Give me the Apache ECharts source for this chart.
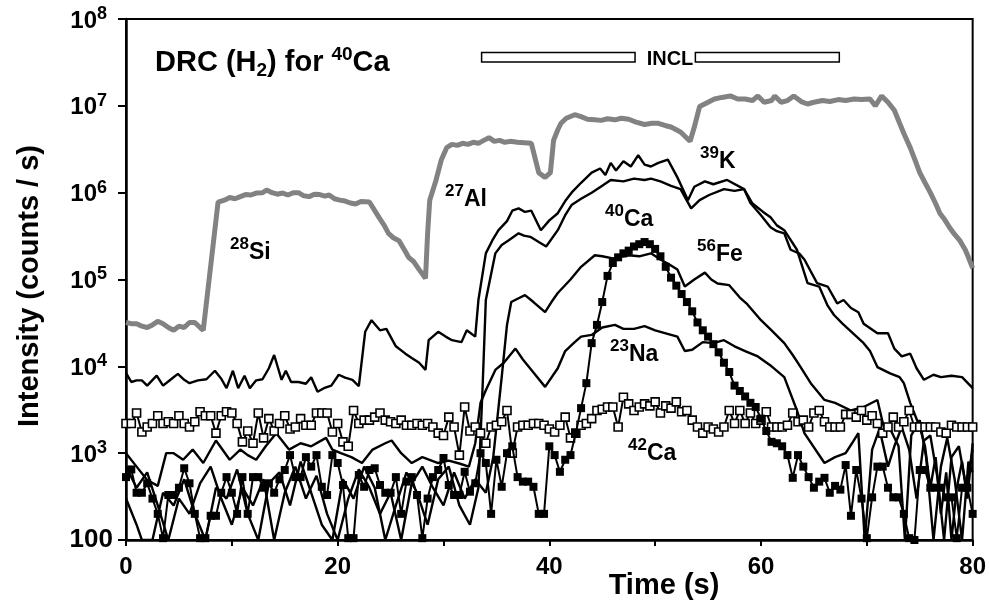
<!DOCTYPE html>
<html>
<head>
<meta charset="utf-8">
<script src="https://cdn.jsdelivr.net/npm/echarts@6.0.0/dist/echarts.min.js"></script>
<style>
  html, body { margin: 0; padding: 0; background: #fff; }
  #chart { width: 989px; height: 603px; }
</style>
</head>
<body>
<div id="chart"></div>
<script>
// axis ticks
var xTicks = [0, 20, 40, 60, 80]
var yTicks = [100, 1e3, 1e4, 1e5, 1e6, 1e7, 1e8]

// 28Si / 27Al (grey trace), [time, counts/s]
var si28 = [
  [0,3.2e4],[0.5,3.1e4],[1,3.1e4],[1.5,2.9e4],[2,2.8e4],[2.5,3.0e4],[3,3.3e4],[3.5,3.1e4],[4,2.8e4],[4.5,2.6e4],
  [5,2.9e4],[5.5,2.8e4],[6,3.2e4],[6.5,3.2e4],[7,2.8e4],[7.3,2.6e4],[8.7,7.8e5],[9.3,8.2e5],[9.8,8.8e5],[10.3,8.5e5],
  [10.8,9.0e5],[11.3,9.5e5],[11.8,9.4e5],[12.3,9.9e5],[12.9,1.0e6],[13.3,1.07e6],[13.8,1.0e6],[14.3,9.6e5],[14.8,9.9e5],[15.3,9.4e5],
  [15.8,1.0e6],[16.3,1.0e6],[16.8,9.2e5],[17.3,9.0e5],[17.8,9.6e5],[18.3,9.5e5],[18.8,9.1e5],[19.2,9.4e5],[19.7,8.5e5],[20.2,8.2e5],
  [20.7,8.0e5],[21.2,7.6e5],[21.7,7.4e5],[22.2,7.9e5],[23,7.8e5],[23.9,5.2e5],[24.4,4.2e5],[24.8,3.4e5],[25.3,3.0e5],[25.8,2.8e5],
  [26.3,2.2e5],[26.7,1.8e5],[27.2,1.6e5],[27.7,1.3e5],[28.3,1.03e5],[28.5,3.4e5],[28.7,8.2e5],[29.3,1.4e6],[29.8,2.4e6],[30.3,3.3e6],
  [30.8,3.6e6],[31.3,3.5e6],[31.8,3.7e6],[32.3,3.6e6],[32.8,3.8e6],[33.3,3.7e6],[33.8,4.0e6],[34.3,4.3e6],[34.8,3.9e6],[35.3,4.0e6],
  [35.8,3.8e6],[36.3,3.9e6],[37,3.8e6],[38.3,3.7e6],[39,1.7e6],[39.6,1.5e6],[40.1,1.7e6],[40.4,4.0e6],[40.8,5.3e6],[41.1,6.3e6],
  [41.6,7.2e6],[42.4,7.9e6],[43,7.5e6],[43.6,7.0e6],[44.3,6.9e6],[44.9,6.8e6],[45.5,7.1e6],[46.2,6.9e6],[46.8,7.2e6],[47.5,7.0e6],
  [48.2,6.5e6],[49,6.1e6],[49.7,6.3e6],[50.3,6.3e6],[51,5.9e6],[51.5,5.7e6],[52.4,5.0e6],[53.3,3.9e6],[53.7,5.7e6],[54.2,9.8e6],
  [55,1.1e7],[55.6,1.2e7],[56.3,1.25e7],[57.1,1.3e7],[57.8,1.2e7],[58.5,1.2e7],[59.2,1.15e7],[59.7,1.3e7],[60.3,1.1e7],[61,1.15e7],
  [61.3,1.3e7],[61.9,1.1e7],[62.5,1.15e7],[63.1,1.3e7],[63.8,1.12e7],[64.4,1.05e7],[65,1.1e7],[65.8,1.15e7],[66.5,1.12e7],[67.3,1.18e7],
  [68,1.15e7],[68.8,1.2e7],[69.5,1.18e7],[70.3,1.2e7],[70.8,1.0e7],[71.4,1.3e7],[72,1.1e7],[72.6,8.9e6],[73.1,6.3e6],[73.5,4.8e6],
  [74.1,3.3e6],[74.6,2.3e6],[75,1.7e6],[75.5,1.3e6],[76,1.0e6],[76.5,7.5e5],[76.9,5.8e5],[77.4,4.8e5],[77.8,4.0e5],[78.3,3.3e5],
  [78.8,2.8e5],[79.3,2.2e5],[79.6,1.8e5],[80,1.35e5]
]

// 39K
var k39 = [
  [0,8400],[0.5,6600],[1,6900],[1.5,6900],[2,6000],[2.9,7800],[3.5,6000],[4.2,7000],[4.9,8200],[5.5,7000],
  [6,6400],[6.8,6900],[7.6,7100],[8.4,8900],[9,7200],[9.5,5600],[10.1,8900],[10.6,5600],[11.2,7800],[11.7,5600],
  [12.3,6900],[12.9,7100],[13.5,9500],[14,13500],[14.7,7000],[15.1,8900],[15.6,6600],[16.3,6600],[17,6300],[17.5,7500],
  [18.1,5100],[18.7,5600],[19.4,6000],[20.1,8000],[20.7,7400],[21.4,7000],[22,5900],[22.6,25000],[23.2,34000],[24,26000],
  [24.6,27000],[25.5,17000],[26.4,14000],[27,12500],[27.7,11000],[28.3,9100],[28.6,20000],[29.5,25000],[30.2,22000],[30.8,20000],
  [31.7,19000],[32.2,26000],[33,22000],[33.3,58000],[34,200000],[34.6,280000],[35.2,370000],[36,470000],[36.5,620000],[37.1,660000],
  [37.7,600000],[38.3,620000],[39.2,370000],[40,480000],[40.8,580000],[41.5,800000],[42.1,1.0e6],[43,1.3e6],[44,1.7e6],[44.8,1.9e6],
  [45.3,1.6e6],[45.8,2.2e6],[46.3,1.8e6],[47,2.3e6],[47.7,2.0e6],[48.4,2.7e6],[49,2.1e6],[49.6,2.0e6],[50.3,2.2e6],[51.2,2.4e6],
  [52.1,1.5e6],[53.1,8.2e5],[53.7,1.17e6],[54.7,1.35e6],[55.5,1.25e6],[56.8,1.4e6],[58.4,1.1e6],[59,7.6e5],[60,5.5e5],[60.9,4e5],
  [61.5,3.6e5],[62.2,3.4e5],[62.8,2.2e5],[63.6,2.0e5],[64.1,1.7e5],[65.3,9.1e4],[66.3,8.3e4],[67.2,5.3e4],[67.8,5.8e4],[68.5,4.7e4],
  [69.2,4.2e4],[69.7,3.1e4],[71,2.4e4],[72,2.4e4],[72.6,1.6e4],[73.3,1.3e4],[74.1,1.4e4],[74.7,9.5e3],[75.4,7e3],[76.3,8e3],
  [77,7.5e3],[78,7.8e3],[79,7.5e3],[80,5.6e3]
]

// second upper trace (unlabelled)
var upper2 = [
  [0,300],[1,150],[1.5,100],[2.5,100],[3.5,350],[4.5,250],[5.5,500],[6.5,200],[7.5,100],[8.5,400],
  [9.5,300],[10.5,650],[11.5,200],[12.5,100],[13.5,450],[14.5,600],[15.5,250],[16.5,800],[17.5,350],[18.5,150],
  [19.5,100],[20.5,500],[21.5,300],[22.5,700],[23.5,400],[24.5,100],[25.5,250],[26.5,600],[27.5,350],[28.5,150],
  [29.5,500],[30.5,700],[31.5,250],[32.5,150],[33.3,400],[33.7,6000],[34,58000],[34.9,200000],[35.5,250000],[36.1,280000],
  [37.1,340000],[37.6,320000],[38.2,310000],[39,270000],[39.7,240000],[40.8,370000],[41.5,550000],[42.1,720000],[43,850000],[44,1.0e6],
  [45,1.2e6],[45.8,1.4e6],[47,1.35e6],[48,1.45e6],[49,1.4e6],[49.6,1.45e6],[50.5,1.35e6],[51.5,1.2e6],[52.4,1.1e6],[53.4,6.6e5],
  [54.2,8.2e5],[55.1,9.4e5],[56.5,1.1e6],[57.5,1.05e6],[58.4,1.1e6],[59.2,7.5e5],[60.2,6e5],[60.9,5.2e5],[61.5,4.2e5],[62.2,3.7e5],
  [63.4,2.2e5],[64.4,9.1e4],[65.5,8.3e4],[66.3,5e4],[66.9,3.9e4],[67.7,3.1e4],[68.7,2.4e4],[69.7,1.85e4],[70.3,1.5e4],[71,9.8e3],
  [72.2,8.3e3],[73.1,7.5e3],[73.5,6.4e3],[74.1,3.8e3],[75,2e3],[75.5,1200],[76,400],[76.5,900],[77,200],[77.5,600],
  [78,100],[78.5,400],[79,800],[79.5,300],[80,1300]
]

// 56Fe
var fe56 = [
  [0,700],[1,400],[2,600],[3,250],[4,100],[5,300],[6,200],[7,450],[8,700],[9,300],
  [10,150],[11,400],[12,250],[13,500],[14,100],[15,350],[16,700],[17,300],[18,550],[19,200],
  [20,100],[21,300],[22,650],[23,400],[24,200],[25,350],[26,100],[27,450],[28,700],[29,400],
  [30,250],[31,600],[32,300],[33,500],[34,350],[34.7,900],[35.5,7500],[36,30000],[36.4,55000],[37,60000],
  [37.7,66000],[38.5,55000],[39.6,42000],[40.2,55000],[40.8,70000],[42,100000],[43,140000],[44.3,190000],[45,185000],[46,175000],
  [46.5,180000],[47.5,190000],[48.5,185000],[49.6,200000],[50.5,170000],[51.3,150000],[52.1,130000],[52.8,83000],[53.7,100000],[54.7,120000],
  [55.3,100000],[55.9,90000],[57,86000],[58,62000],[58.7,52000],[60,34000],[61,26000],[62.2,18500],[63,13500],[63.7,10000],
  [64.7,6400],[66,4100],[67,3800],[68.5,3100],[69.7,3400],[71,4100],[71.6,2000],[72.3,1800],[73,1200],[73.6,100],
  [74.2,1600],[75,2400],[75.6,900],[76.3,100],[77,700],[77.6,1500],[78.3,500],[79,100],[79.6,800],[80,600]
]

// 23Na
var na23 = [
  [0,1000],[1,700],[2,490],[3,420],[3.8,1000],[4.5,1000],[5.4,840],[6.3,1100],[7.3,770],[8.5,1400],
  [9.8,840],[10.8,1100],[11.5,950],[12.3,840],[13.2,1200],[14.2,1700],[15.4,1100],[16.5,1300],[17.5,1200],[18.9,1500],
  [19.5,1100],[20.3,1000],[21.3,900],[22.3,770],[23.3,1100],[24.5,1300],[25.1,1400],[26,1000],[27,770],[28,900],
  [29.5,770],[30.5,820],[31.5,760],[32.4,700],[33,1300],[33.5,3800],[34,5300],[34.9,9100],[35.7,11000],[36.8,16000],
  [37.5,12000],[38.5,8500],[39.6,5800],[40.8,9500],[41.5,15000],[42.4,19000],[43,22000],[44,23000],[45,28000],[46.2,30000],
  [47,27000],[48,27000],[49,29000],[50,26000],[51,24000],[52.1,22000],[52.8,15000],[53.5,15500],[54.5,19000],[55.5,18500],
  [56.5,20000],[57.5,17000],[58.5,15000],[59.7,13000],[61,10000],[62.2,7500],[63.4,3100],[64.1,1700],[66,770],[67,900],
  [68,1000],[68.6,1300],[69.2,1700],[69.8,100],[70.5,1100],[71.2,1900],[72,700],[72.6,1200],[73.3,2000],[74,1100],
  [74.7,300],[75.4,1400],[76,1600],[76.7,500],[77.3,100],[78,900],[78.7,1200],[79.4,400],[80,1100]
]

// 40Ca (filled squares) and 42Ca (open squares), one value every 0.5 s from 0 to 80 s
var sqStep = 0.5
var ca40 = [
  530,650,350,350,450,300,200,105,330,330,400,670,450,200,105,105,190,190,350,530,
  350,200,530,200,530,530,400,450,350,500,640,950,530,530,900,700,950,410,330,950,
  770,430,105,105,560,410,640,670,430,350,350,530,200,470,530,330,105,300,530,640,
  880,430,330,330,610,360,450,1000,770,200,840,410,1000,1200,530,470,470,410,200,200,
  1200,950,610,840,950,1700,3300,6400,18500,30000,55000,110000,155000,180000,200000,215000,240000,255000,270000,255000,
  225000,185000,140000,105000,85000,68000,55000,43000,32000,26000,22000,18000,14500,11000,8600,6000,5200,4500,3800,3400,
  2500,1800,1350,1300,1200,950,520,950,700,530,400,470,520,350,420,380,730,190,640,300,
  105,310,700,700,400,310,310,200,105,100,640,640,400,400,400,310,310,105,400,400,
  200
]
var ca42 = [
  2200,2200,2900,1750,2000,2200,2700,2200,2300,2200,2700,2200,2000,2300,3000,2700,2700,1700,2700,3000,
  2900,2200,1350,1800,1300,2900,1500,2500,1800,2200,2700,1900,2000,2500,2100,2100,2900,2900,2900,1750,
  2200,1350,1200,3100,2200,2400,2400,2600,2900,2400,2300,2200,2400,2100,2100,2200,2100,2200,2000,1700,
  1600,2600,2000,950,3400,1800,2000,1700,1300,2000,2100,2300,3100,1000,2000,2100,2100,2200,2200,2100,
  1900,1750,2100,2600,1500,1700,2100,2200,2500,3100,3200,3400,3400,2000,4400,3700,3100,3400,3700,3500,
  3900,2900,3500,3300,3900,3000,3100,2400,2000,1700,2000,1900,1750,2000,3100,2200,3100,2200,2900,2200,
  2400,3000,2000,2000,2000,2100,2900,2300,2400,2000,2900,3100,2300,2000,2000,2000,2800,2800,2600,3100,
  2400,2700,2200,1700,2000,2600,2000,2300,3100,2000,2000,2000,2000,2000,1750,1700,2100,2000,2000,2000,
  2000
]

// INCL bar (time span, split around the label)
var inclSpans = [[33.6, 48.1], [53.8, 67.4]]
var inclLow = 3.2e7, inclHigh = 4.1e7

var FONT = '"Liberation Sans", Arial, Helvetica, sans-serif'

function withTime(values) {
  return values.map(function (v, i) { return [i * sqStep, v] })
}

var chart = echarts.init(document.getElementById('chart'))

function plainLine(data, z) {
  return {
    type: 'line', data: data, symbol: 'none', z: z || 3,
    lineStyle: { color: '#000', width: 2.4 },
    animation: false
  }
}

// isotope labels: [sup, element, left px, middle px]
var isoLabels = [
  ['28', 'Si', 230, 250],
  ['27', 'Al', 445, 197],
  ['40', 'Ca', 605, 217],
  ['39', 'K', 700, 159],
  ['56', 'Fe', 697, 252],
  ['23', 'Na', 610, 352],
  ['42', 'Ca', 628, 451]
]

var graphics = isoLabels.map(function (l) {
  return {
    type: 'text', left: l[2], top: l[3] - 14, z: 20,
    style: {
      text: '{s|' + l[0] + '}{b|' + l[1] + '}',
      rich: {
        s: { fontSize: 17, fontWeight: 'bold', fontFamily: FONT, lineHeight: 16, verticalAlign: 'top', fill: '#000' },
        b: { fontSize: 23, fontWeight: 'bold', fontFamily: FONT, lineHeight: 28, verticalAlign: 'bottom', fill: '#000' }
      }
    }
  }
})

graphics.push({
  type: 'text', left: 155, top: 45, z: 20,
  style: {
    text: '{b|DRC (H}{sub|2}{b|) for }{sup|40}{b|Ca}',
    rich: {
      b: { fontSize: 29, fontWeight: 'bold', fontFamily: FONT, lineHeight: 32, verticalAlign: 'bottom', fill: '#000' },
      sub: { fontSize: 19, fontWeight: 'bold', fontFamily: FONT, lineHeight: 19, verticalAlign: 'bottom', padding: [0, 0, -3, 0], fill: '#000' },
      sup: { fontSize: 19, fontWeight: 'bold', fontFamily: FONT, lineHeight: 19, verticalAlign: 'top', fill: '#000' }
    }
  }
})
graphics.push({
  type: 'text', x: 670, y: 59, z: 20,
  style: { text: 'INCL', fontSize: 20, fontWeight: 'bold', fontFamily: FONT, fill: '#000', align: 'center', verticalAlign: 'middle' }
})
graphics.push({
  type: 'text', x: 664, y: 586, z: 20,
  style: { text: 'Time (s)', fontSize: 29, fontWeight: 'bold', fontFamily: FONT, fill: '#000', align: 'center', verticalAlign: 'middle' }
})
graphics.push({
  type: 'text', x: 30, y: 286, rotation: Math.PI / 2, z: 20,
  style: { text: 'Intensity (counts / s)', fontSize: 29, fontWeight: 'bold', fontFamily: FONT, fill: '#000', align: 'center', verticalAlign: 'middle' }
})

var option = {
  backgroundColor: '#fff',
  animation: false,
  grid: {
    left: 126, right: 13, top: 19, bottom: 63,
    show: true, borderColor: '#000', borderWidth: 2
  },
  xAxis: {
    type: 'value', min: 0, max: 80, interval: 10,
    axisLine: { lineStyle: { color: '#000', width: 2.5 } },
    axisTick: { length: 6, lineStyle: { color: '#000', width: 2 } },
    axisLabel: {
      color: '#000', fontSize: 24, fontWeight: 'bold', fontFamily: FONT, margin: 15,
      formatter: function (v) { return xTicks.indexOf(v) >= 0 ? String(v) : '' }
    },
    splitLine: { show: false }
  },
  yAxis: {
    type: 'log', logBase: 10, min: yTicks[0], max: yTicks[yTicks.length - 1],
    axisLine: { lineStyle: { color: '#000', width: 2.5 } },
    axisTick: { length: 8, lineStyle: { color: '#000', width: 2 } },
    minorTick: { show: false },
    axisLabel: {
      color: '#000', margin: 13,
      formatter: function (v) {
        if (v <= yTicks[0]) return '{h|100}'
        return '{b|10}{s|' + Math.round(Math.log10(v)) + '}'
      },
      rich: {
        h: { fontSize: 26, fontWeight: 'bold', fontFamily: FONT, lineHeight: 28, color: '#000' },
        b: { fontSize: 24, fontWeight: 'bold', fontFamily: FONT, lineHeight: 28, verticalAlign: 'bottom', color: '#000' },
        s: { fontSize: 18, fontWeight: 'bold', fontFamily: FONT, lineHeight: 17, verticalAlign: 'top', padding: [0, 6, 0, 0], color: '#000' }
      }
    },
    splitLine: { show: false }
  },
  graphic: graphics,
  series: [
    {
      type: 'line', data: si28, symbol: 'none', z: 2,
      lineStyle: { color: '#828282', width: 5 },
      markArea: {
        silent: true,
        itemStyle: { color: '#fff', borderColor: '#000', borderWidth: 1.5 },
        data: inclSpans.map(function (s) {
          return [{ xAxis: s[0], yAxis: inclLow }, { xAxis: s[1], yAxis: inclHigh }]
        })
      }
    },
    plainLine(k39),
    plainLine(upper2),
    plainLine(fe56),
    plainLine(na23),
    {
      type: 'line', data: withTime(ca42), symbol: 'rect', symbolSize: 8, z: 5,
      lineStyle: { color: '#000', width: 2 },
      itemStyle: { color: '#fff', borderColor: '#000', borderWidth: 1.6 }
    },
    {
      type: 'line', data: withTime(ca40), symbol: 'rect', symbolSize: 8, z: 6,
      lineStyle: { color: '#000', width: 2 },
      itemStyle: { color: '#000', borderColor: '#000', borderWidth: 0 }
    }
  ]
}

chart.setOption(option)
window.addEventListener('resize', function () {
  chart.resize()
})
</script>
</body>
</html>
